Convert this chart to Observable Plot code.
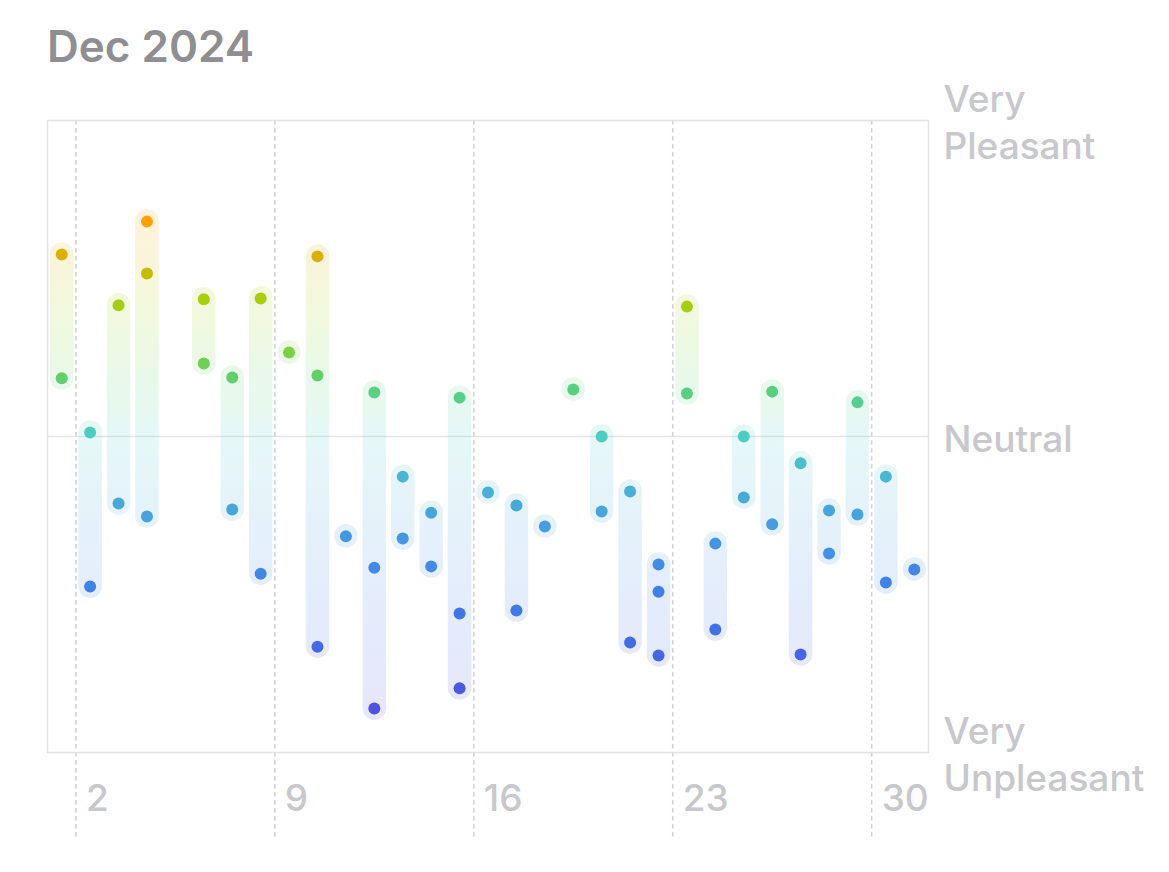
<!DOCTYPE html>
<html><head><meta charset="utf-8">
<script src="https://cdn.jsdelivr.net/npm/d3@7"></script>
<script src="https://cdn.jsdelivr.net/npm/@observablehq/plot@0.6"></script>
<style>
body{margin:0;background:#fff;}
#wrap{position:relative;width:1169px;height:872px;}
#title{position:absolute;left:47px;top:24px;margin:0;font:600 44px/1 Inter, sans-serif;color:#8e8e93;}
#chart{position:absolute;left:0;top:60px;}
#chart svg{overflow:visible;}
</style></head><body>
<div id="wrap"><h1 id="title">Dec 2024</h1><div id="chart"></div></div>
<script>
const days = [1,1, 2,2, 3,3, 4,4,4, 6,6, 7,7, 8,8, 9, 10,10,10, 11, 12,12,12, 13,13, 14,14, 15,15,15, 16, 17,17, 18, 19, 20,20, 21,21, 22,22,22, 23,23, 24,24, 25,25, 26,26, 27,27, 28,28, 29,29, 30,30, 31];
const moods = [0.576,0.184, 0.013,-0.475, 0.415,-0.212, 0.680,0.516,-0.253, 0.434,0.231, 0.187,-0.231, 0.437,-0.434, 0.266, 0.570,0.193,-0.665, -0.316, 0.139,-0.415,-0.861, -0.127,-0.323, -0.241,-0.411, 0.123,-0.560,-0.797, -0.177, -0.218,-0.551, -0.285, 0.149, 0.0,-0.237, -0.174,-0.652, -0.405,-0.491,-0.693, 0.411,0.136, -0.339,-0.611, 0.0,-0.193, 0.142,-0.278, -0.085,-0.690, -0.234,-0.370, 0.108,-0.247, -0.127,-0.462, -0.421];
const xTicks = [2, 9, 16, 23, 30];
const yTicks = [-1, 0, 1];
const yLabels = ["Very\nUnpleasant", "Neutral", "Very\nPleasant"];
const colorStops = [-1, -0.8, -0.5, -0.25, 0, 0.18, 0.3, 0.43, 0.55, 0.68, 1];
const colorRange = ["#5a45d4", "#4b58df", "#3f7ee8", "#47a2dd", "#4ccdc4", "#5fcf6e", "#84d236", "#a8cf0c", "#d2b400", "#ffa10a", "#ff8a00"];

const entries = days.map((d, i) => ({day: d, mood: moods[i]}));
const spans = d3.rollups(entries, v => ({min: d3.min(v, e => e.mood), max: d3.max(v, e => e.mood)}), e => e.day)
  .map(([day, s]) => ({day, min: s.min, max: s.max}));

const chart = Plot.plot({
  width: 1169, height: 792,
  marginTop: 60, marginLeft: 47, marginRight: 241, marginBottom: 100,
  x: {domain: [1, 32], axis: null},
  y: {domain: [-1, 1], axis: null},
  color: {type: "linear", domain: colorStops, range: colorRange},
  style: {fontFamily: "Inter, sans-serif", fontSize: "37px", background: "transparent", overflow: "visible"},
  marks: [
    Plot.ruleY([0], {stroke: "#e5e5ea", strokeWidth: 1.5}),
    Plot.ruleX(xTicks, {x: d => d, stroke: "#d1d1d6", strokeWidth: 1.6, strokeDasharray: "4.5,3.5", insetBottom: -85}),
    Plot.frame({stroke: "#e3e3e6", strokeWidth: 1.5}),
    Plot.ruleX(spans, {x: d => d.day + 0.5, y1: "min", y2: "max", stroke: "url(#moodGrad)", strokeWidth: 23.5, strokeLinecap: "round", strokeOpacity: 0.14}),
    Plot.dot(entries, {x: d => d.day + 0.5, y: "mood", r: 6, fill: "mood"}),
    Plot.text(xTicks, {x: d => d, text: d => String(d), frameAnchor: "bottom", dy: 58, dx: 10, textAnchor: "start", fill: "#c7c7cc", fontSize: 37, fontWeight: 500}),
    Plot.text(yTicks, {y: d => d, text: (d, i) => yLabels[i], frameAnchor: "right", dx: 15, textAnchor: "start", lineHeight: 1.27, fill: "#c7c7cc", fontSize: 37, fontWeight: 500})
  ]
});

const ys = chart.scale("y");
const grad = d3.select(chart).insert("defs", ":first-child")
  .append("linearGradient")
  .attr("id", "moodGrad")
  .attr("gradientUnits", "userSpaceOnUse")
  .attr("x1", 0).attr("x2", 0)
  .attr("y1", ys.apply(-1)).attr("y2", ys.apply(1));
colorStops.forEach((s, i) => {
  grad.append("stop").attr("offset", (s + 1) / 2).attr("stop-color", colorRange[i]);
});

document.getElementById("chart").appendChild(chart);
</script>
</body></html>
